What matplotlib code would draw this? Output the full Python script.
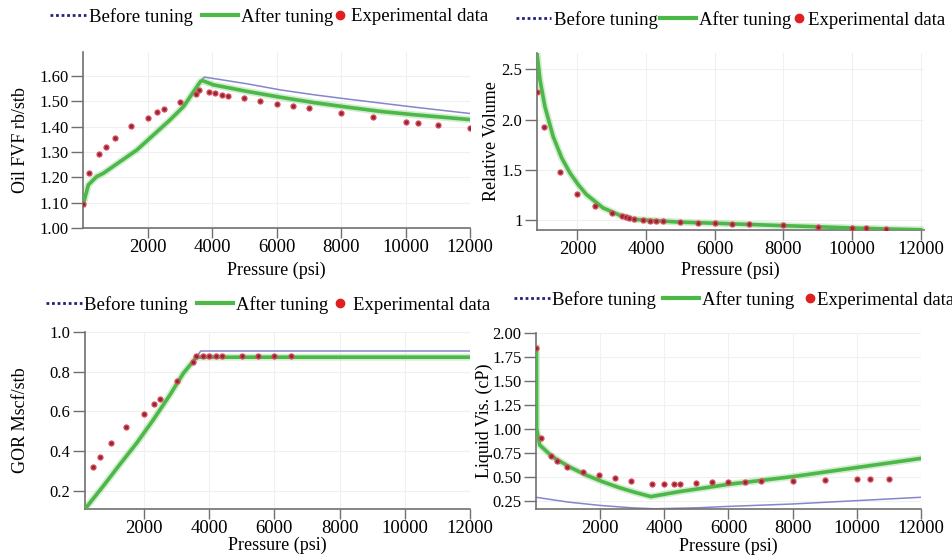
import numpy as np
import matplotlib.pyplot as plt
from matplotlib.lines import Line2D

plt.rcParams["font.family"] = ["Liberation Serif", "DejaVu Serif"]

# Oil FVF (rb/stb)
fvf_exp_p = [10, 200, 500, 700, 1000, 1500, 2000, 2300, 2500, 3000, 3500, 3600, 3900,
             4100, 4300, 4500, 5000, 5500, 6000, 6500, 7000, 8000, 9000, 10000, 10400,
             11000, 12000]
fvf_exp = [1.095, 1.218, 1.292, 1.320, 1.357, 1.402, 1.436, 1.457, 1.469, 1.498, 1.528,
           1.543, 1.536, 1.532, 1.526, 1.522, 1.513, 1.502, 1.491, 1.482, 1.473, 1.455,
           1.437, 1.420, 1.414, 1.407, 1.393]
fvf_after_p = [10, 165, 425, 630, 1150, 1670, 2190, 2700, 3120, 3640, 3700, 4050, 5100,
               6130, 7160, 8200, 9240, 10280, 12000]
fvf_after = [1.095, 1.170, 1.203, 1.216, 1.262, 1.308, 1.368, 1.427, 1.480, 1.578, 1.582,
             1.565, 1.539, 1.516, 1.495, 1.477, 1.460, 1.447, 1.428]
fvf_before_p = [10, 165, 425, 630, 1150, 1670, 2190, 2700, 3120, 3640, 3760, 5100, 6130,
                7160, 8200, 9240, 10280, 12000]
fvf_before = [1.095, 1.170, 1.203, 1.216, 1.262, 1.308, 1.368, 1.427, 1.480, 1.578, 1.596,
              1.569, 1.545, 1.526, 1.509, 1.493, 1.477, 1.452]

# Relative volume
rv_exp_p = [820, 1030, 1500, 2000, 2500, 3000, 3300, 3400, 3500, 3650, 3900, 4100, 4300,
            4500, 5000, 5500, 6000, 6500, 7000, 8000, 9000, 10000, 10400, 11000]
rv_exp = [2.27, 1.925, 1.48, 1.26, 1.14, 1.075, 1.04, 1.03, 1.02, 1.01, 1.0, 0.998, 0.995,
          0.993, 0.985, 0.978, 0.972, 0.966, 0.96, 0.95, 0.938, 0.925, 0.92, 0.917]
rv_after_p = [820, 907, 1050, 1290, 1540, 1780, 2020, 2260, 2740, 3230, 3660, 4970, 6000,
              7000, 8000, 9000, 10000, 11000, 12000]
rv_after = [2.655, 2.392, 2.128, 1.832, 1.619, 1.471, 1.355, 1.257, 1.125, 1.052, 1.010,
            0.983, 0.972, 0.960, 0.948, 0.937, 0.925, 0.915, 0.907]
rv_before_p = [820, 907, 1050, 1290, 1540, 1780, 2020, 2260, 2740, 3230, 3660, 4970, 6000,
               7000, 8000, 9000, 10000, 11000, 12000]
rv_before = [2.655, 2.392, 2.128, 1.832, 1.619, 1.471, 1.355, 1.257, 1.125, 1.052, 1.010,
             0.983, 0.972, 0.960, 0.948, 0.937, 0.925, 0.915, 0.907]

# GOR (Mscf/stb)
gor_exp_p = [450, 650, 1000, 1450, 2000, 2300, 2500, 3000, 3500, 3600, 3800, 4000, 4200,
             4400, 5000, 5500, 6000, 6500]
gor_exp = [0.322, 0.373, 0.44, 0.524, 0.587, 0.637, 0.662, 0.75, 0.847, 0.878, 0.88, 0.88,
           0.88, 0.88, 0.88, 0.88, 0.88, 0.88]
gor_after_p = [190, 750, 1260, 1780, 2290, 2800, 3210, 3560, 3650, 12000]
gor_after = [0.11, 0.225, 0.334, 0.442, 0.559, 0.684, 0.792, 0.862, 0.872, 0.872]
gor_before_p = [190, 750, 1260, 1780, 2290, 2800, 3210, 3560, 3740, 12000]
gor_before = [0.11, 0.225, 0.334, 0.442, 0.559, 0.684, 0.792, 0.862, 0.903, 0.903]

# Liquid viscosity (cP)
vis_exp_p = [15, 150, 470, 670, 960, 1460, 1970, 2470, 2970, 3620, 4000, 4300, 4500, 5000,
             5500, 6000, 6500, 7000, 8000, 9000, 10000, 10400, 11000]
vis_exp = [1.84, 0.90, 0.71, 0.667, 0.605, 0.552, 0.518, 0.485, 0.457, 0.425, 0.425, 0.428,
           0.428, 0.435, 0.442, 0.445, 0.445, 0.45, 0.457, 0.467, 0.477, 0.477, 0.48]
vis_after_p = [15, 20, 115, 510, 1030, 1550, 2070, 2590, 3120, 3580, 4470, 6000, 8000, 12000]
vis_after = [1.84, 1.004, 0.83, 0.708, 0.604, 0.518, 0.448, 0.386, 0.333, 0.292, 0.344,
             0.42, 0.50, 0.69]
vis_before_p = [0, 1000, 2000, 3000, 3700, 5000, 6000, 8000, 10000, 12000]
vis_before = [0.285, 0.235, 0.20, 0.175, 0.165, 0.175, 0.19, 0.215, 0.25, 0.285]

x_ticks = [2000, 4000, 6000, 8000, 10000, 12000]

green = '#4cb848'
blue = '#8585cc'

fig = plt.figure(figsize=(9.53, 5.6), dpi=100)

panels = [
    # rect, data, ylabel, xlim, ylim, yticks, yticklabels, ylabel x, xlabel y,
    # legend y, legend split x, dot legend x, column spacing, dot text pad
    ([0.0871, 0.5929, 0.4061, 0.3143], (fvf_exp_p, fvf_exp, fvf_after_p, fvf_after, fvf_before_p, fvf_before),
     'Oil FVF rb/stb', (0, 12000), (1.0, 1.695),
     [1.0, 1.1, 1.2, 1.3, 1.4, 1.5, 1.6], ['1.00', '1.10', '1.20', '1.30', '1.40', '1.50', '1.60'],
     -0.14, -0.19, 1.20, 0.646, 0.646, 0.53, 0.28),
    ([0.5635, 0.5893, 0.4060, 0.3161], (rv_exp_p, rv_exp, rv_after_p, rv_after, rv_before_p, rv_before),
     'Relative Volume', (820, 12100), (0.905, 2.66),
     [1.0, 1.5, 2.0, 2.5], ['1', '1.5', '2.0', '2.5'],
     -0.096, -0.18, 1.186, 0.656, 0.661, 0.12, 0.1),
    ([0.0892, 0.0911, 0.4040, 0.3166], (gor_exp_p, gor_exp, gor_after_p, gor_after, gor_before_p, gor_before),
     'GOR Mscf/stb', (190, 12000), (0.11, 1.0),
     [0.2, 0.4, 0.6, 0.8, 1.0], ['0.2', '0.4', '0.6', '0.8', '1.0'],
     -0.145, -0.158, 1.15, 0.631, 0.644, 0.48, 0.38),
    ([0.5624, 0.0911, 0.4040, 0.3148], (vis_exp_p, vis_exp, vis_after_p, vis_after, vis_before_p, vis_before),
     'Liquid Vis. (cP)', (0, 12000), (0.163, 2.0),
     [0.25, 0.5, 0.75, 1.0, 1.25, 1.5, 1.75, 2.0],
     ['0.25', '0.50', '0.75', '1.00', '1.25', '1.50', '1.75', '2.00'],
     -0.112, -0.16, 1.185, 0.670, 0.694, 0.37, 0.06),
]

line_handles = [
    Line2D([], [], color='#22227a', lw=2, linestyle=(0, (1, 1))),
    Line2D([], [], color=green, lw=3),
]
line_labels = ['Before tuning', 'After tuning']
dot_handle = Line2D([], [], color='#e02020', marker='o', ms=6, lw=0)

for (rect, data, ylab, xl, yl, yt, ytl, ylx, xly, legy,
     split_x, dot_x, col_sp, dot_pad) in panels:
    ep, ev, ap, av, bp, bv = data
    ax = fig.add_axes(rect)
    ax.plot(bp, bv, color=blue, lw=1.1, zorder=2)
    ax.plot(ap, av, color=green, lw=5, alpha=0.25, zorder=3)
    ax.plot(ap, av, color=green, lw=2.6, zorder=3)
    ax.plot(ep, ev, 'o', ms=3.6, markerfacecolor='#8a2a3a', markeredgecolor='#e04858',
            mew=0.9, lw=0, zorder=4)
    ax.set_xlim(*xl)
    ax.set_ylim(*yl)
    ax.set_xticks(x_ticks)
    ax.set_yticks(yt)
    ax.set_yticklabels(ytl)
    ax.grid(True, color='#f0f0f0', lw=0.8)
    ax.set_axisbelow(True)
    for s in ['top', 'right']:
        ax.spines[s].set_visible(False)
    for s in ['left', 'bottom']:
        ax.spines[s].set_color('#707070')
        ax.spines[s].set_linewidth(1.2)
    ax.tick_params(axis='x', length=7, width=1, color='#707070', labelsize=13.5, pad=1)
    ax.tick_params(axis='y', length=9, width=1, color='#707070', labelsize=12, pad=1.5)
    ax.set_ylabel(ylab, fontsize=13)
    ax.yaxis.set_label_coords(ylx, 0.5)
    ax.set_xlabel('Pressure (psi)', fontsize=13)
    ax.xaxis.set_label_coords(0.5, xly)

    # legend in two parts so the dot entry can sit closer to its text
    leg_a = ax.legend(line_handles, line_labels, loc='center right',
                      bbox_to_anchor=(split_x, legy), ncol=2, frameon=False,
                      fontsize=13.5, handlelength=1.9, handletextpad=0.15,
                      columnspacing=col_sp, borderpad=0, borderaxespad=0)
    ax.add_artist(leg_a)
    ax.legend([dot_handle], ['Experimental data'], loc='center left',
              bbox_to_anchor=(dot_x, legy), frameon=False, fontsize=13.5,
              handlelength=0.7, handletextpad=dot_pad, borderpad=0, borderaxespad=0)

fig.savefig('out.png', dpi=100)
